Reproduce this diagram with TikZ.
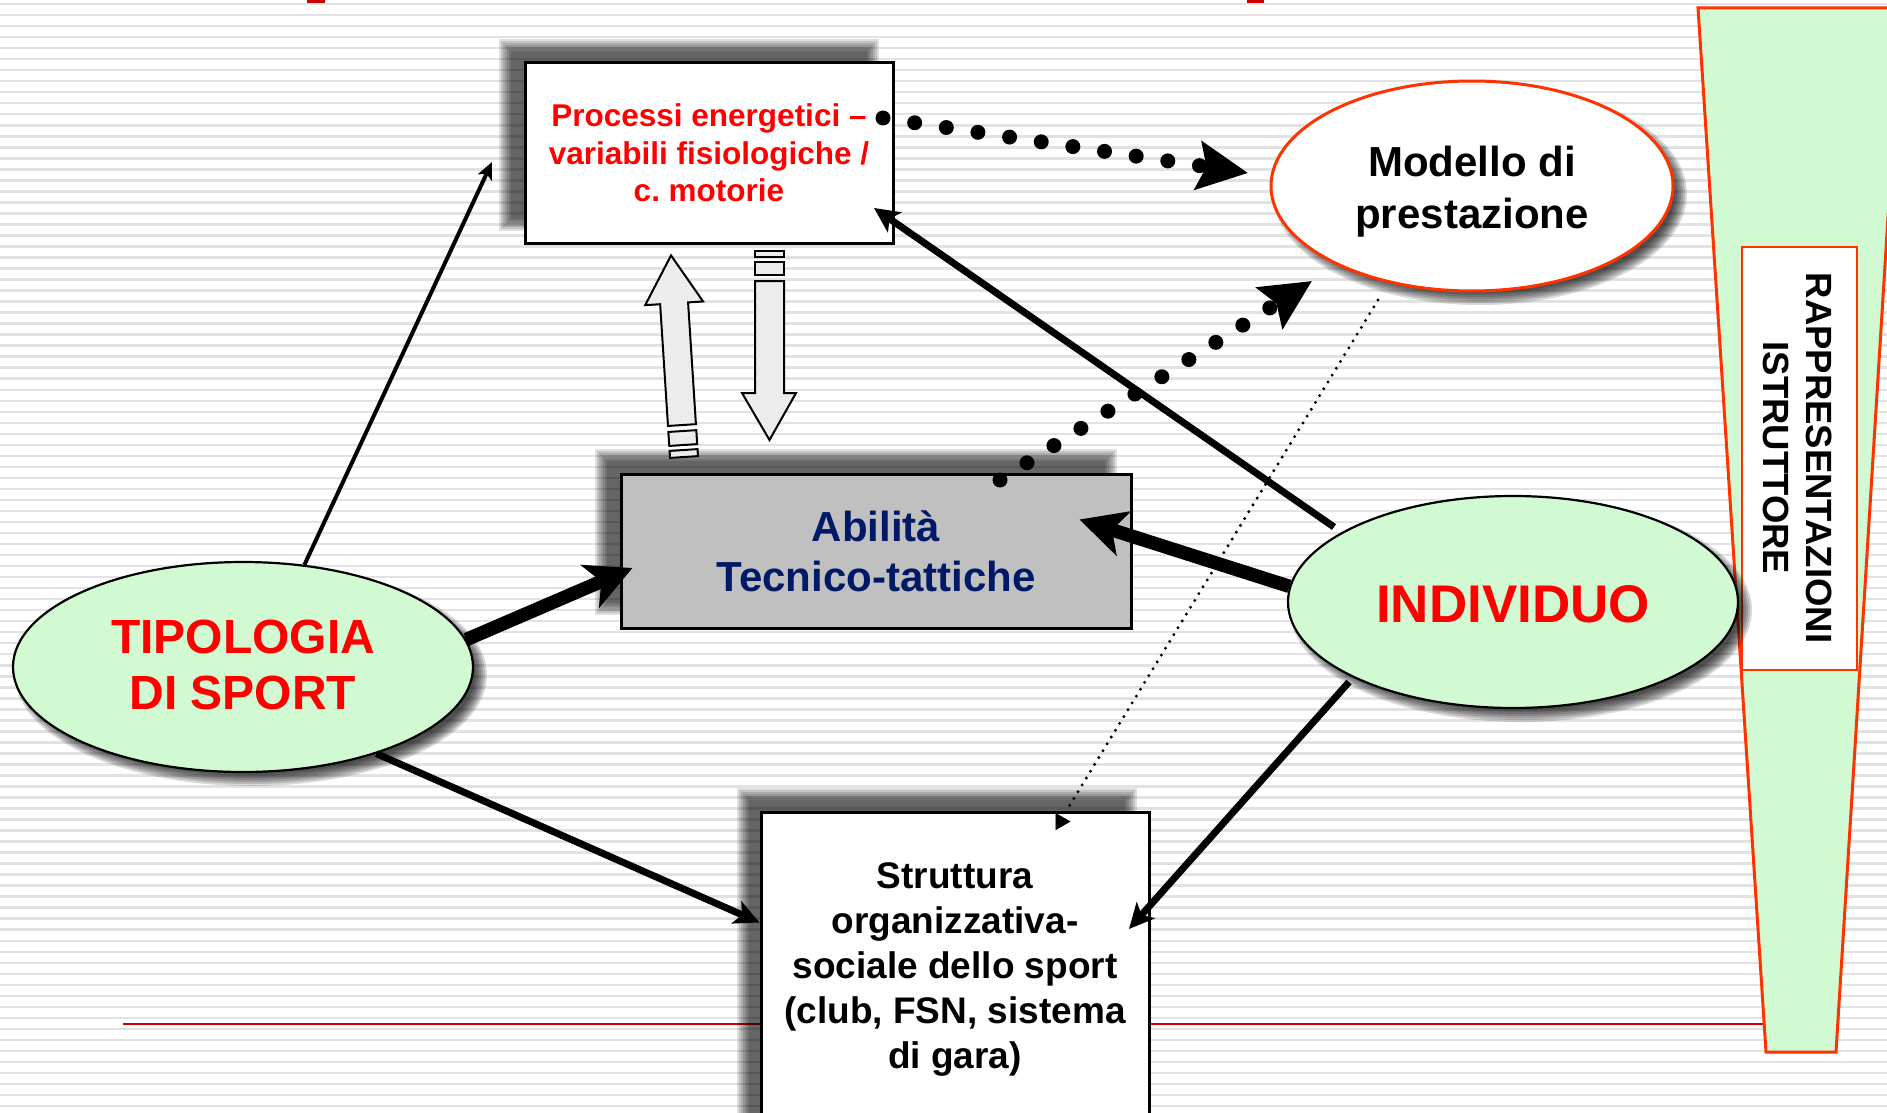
\documentclass[tikz,border=0pt]{standalone}
\usepackage{fontspec}
\setmainfont{Liberation Sans}
\usetikzlibrary{arrows.meta,shapes.geometric,calc}
\definecolor{stripe}{RGB}{226,226,226}
\definecolor{lgreen}{RGB}{210,250,210}
\definecolor{tred}{RGB}{255,0,0}
\definecolor{ored}{RGB}{255,51,0}
\definecolor{navy}{RGB}{0,25,102}
\definecolor{abfill}{RGB}{192,192,192}
\definecolor{lred}{RGB}{204,0,0}
\definecolor{arrfill}{RGB}{236,236,236}
\newcommand{\rectshadow}[4]{\foreach \k in {0,...,6}{\fill[black,opacity=0.12] ({#1-6+2*\k},{#2-6+2*\k}) rectangle ({#3+6-2*\k},{#4+6-2*\k});}}
\newcommand{\ellshadow}[4]{\foreach \k in {0,...,6}{\fill[black,opacity=0.15] (#1,#2) ellipse [x radius={#3+6-2*\k}, y radius={#4+6-2*\k}];}}
\begin{document}
\begin{tikzpicture}[x=1pt,y=-1pt,
  boxnode/.style={draw=black, line width=3pt, rectangle, inner sep=0pt, align=center},
  ellnode/.style={ellipse, line width=2.2pt, inner sep=0pt, align=center},
  bigarrow/.style={line width=13.5pt, -{Stealth[length=46pt,width=46pt,inset=12pt]}},
  midarrow/.style={line width=7pt, -{Stealth[length=25pt,width=24pt,inset=6pt]}},
  thinarrow/.style={line width=4pt, -{Stealth[length=17pt,width=15pt,inset=4pt]}},
  dotarrow/.style={line width=15pt, line cap=round, dash pattern=on 0pt off 32pt, -{Stealth[length=50pt,width=48pt,inset=8pt]}},
  finedots/.style={line width=3.3pt, line cap=round, dash pattern=on 0pt off 8pt},
  smalltip/.style={line width=0.5pt, -{Triangle[length=15pt,width=17pt]}},
  blockarrow/.style={draw=black, line width=2pt, fill=arrfill, line join=miter},
]
\useasboundingbox (0,0) rectangle (1887,1113);
\fill[white] (0,0) rectangle (1887,1113);
\foreach \k in {0,...,100} \fill[stripe] (0,{2.8+11.02*\k}) rectangle (1887,{5.3+11.02*\k});
\fill[lred] (307,0) rectangle (325,3.5);
\fill[lred] (1247,0) rectangle (1264,3.5);
\draw[lred, line width=1.5pt] (123,1024) -- (1766,1024);
\begin{scope}
\clip (0,0) rectangle (1887,1113);
% right funnel
\draw[ored, line width=3pt, fill=lgreen, line join=miter] (1698,8) -- (1901,8) -- (1836,1052) -- (1766,1052) -- cycle;
\node[draw=ored, line width=2pt, fill=white, minimum width=115pt, minimum height=423pt, inner sep=0pt] (rapbox) at (1799.5,458.5) {};
\node[rotate=-90, align=center, inner sep=0pt, font=\bfseries\fontsize{36.5}{43}\selectfont] (raptext) at (1798,458) {RAPPRESENTAZIONI\\ISTRUTTORE};
% shadows
\rectshadow{505}{45}{873}{225}
\rectshadow{601}{455}{1111}{609}
\rectshadow{743}{794}{1131}{1130}
\ellshadow{251}{675}{230}{105}
\ellshadow{1480}{194}{201}{105}
\ellshadow{1521}{610}{225}{106}
% nodes
\node[boxnode, fill=white, minimum width=368pt, minimum height=180pt, text=tred, font=\bfseries\fontsize{31.5}{37.5}\selectfont] (proc) at (709,153) {Processi energetici –\\variabili fisiologiche /\\c.\ motorie};
\node[boxnode, fill=abfill, minimum width=510pt, minimum height=154pt, text=navy, font=\bfseries\fontsize{42}{50}\selectfont] (abil) at (876,551) {Abilità\\Tecnico-tattiche};
\node[boxnode, fill=white, minimum width=388pt, minimum height=314pt, font=\bfseries\fontsize{37}{45}\selectfont] (strut) at (955,969) {Struttura\\organizzativa-\\sociale dello sport\\(club, FSN, sistema\\di gara)};
\node[ellnode, draw=black, fill=lgreen, minimum width=460pt, minimum height=210pt, text=tred, font=\bfseries\fontsize{48}{56}\selectfont] (tipo) at (243,667) {\raisebox{-3pt}[\height][\depth]{\begin{tabular}{@{}c@{}}TIPOLOGIA\\DI SPORT\end{tabular}}};
\node[ellnode, draw=ored, line width=3pt, fill=white, minimum width=402pt, minimum height=210pt, font=\bfseries\fontsize{42}{52}\selectfont] (model) at (1472,186) {\raisebox{-6pt}[\height][\depth]{\begin{tabular}{@{}c@{}}Modello di\\prestazione\end{tabular}}};
\node[ellnode, draw=black, fill=lgreen, minimum width=450pt, minimum height=212pt, text=tred, font=\bfseries\fontsize{53}{60}\selectfont] (indiv) at (1513,602) {\raisebox{-2.5pt}[\height][\depth]{INDIVIDUO}};
% block arrows between proc and abil
\draw[blockarrow] (755,251) rectangle (784,257);
\draw[blockarrow] (755,262) rectangle (784,275);
\draw[blockarrow] (755,281) -- (784,281) -- (784,393) -- (796,393) -- (769.5,440) -- (742,393) -- (755,393) -- cycle;
\draw[blockarrow] (667.98,425.96) -- (660.14,304.21) -- (645.17,305.17) -- (671.03,255.4) -- (703.05,301.45) -- (688.08,302.41) -- (695.92,424.16) -- cycle;
\draw[blockarrow] (669.26,445.92) -- (697.2,444.12) -- (696.3,430.15) -- (668.36,431.95) -- cycle;
\draw[blockarrow] (670.03,457.9) -- (697.97,456.1) -- (697.52,449.11) -- (669.58,450.91) -- cycle;
% connectors
\coordinate (aEnd) at (492,162);
\draw[thinarrow] (tipo.59) -- (aEnd);
\draw[bigarrow] (tipo.7) -- ($(abil.west)+(13,17)$);
\draw[midarrow] (tipo.-33) -- ($(strut.north west)+(0,112)$);
\draw[bigarrow] (indiv.176) -- ($(abil.north east)+(-53,47)$);
\draw[midarrow] ($(indiv)+(-179,-75)$) -- ($(proc)+(165,55)$);
\draw[midarrow] ($(indiv)+(-164,80)$) -- ($(strut)+(174,-40)$);
\coordinate (gEnd) at ($(strut.north west)+(307,0)$);
\draw[finedots] ($(model)+(-94,114)$) -- (gEnd);
\draw[smalltip] ($(strut.north west)+(296,11)$) -- ($(strut.north west)+(311,11)$);
\draw[dotarrow] ($(proc)+(174,-35)$) -- ($(model)+(-224,-13)$);
\draw[dotarrow] ($(abil)+(124,-71)$) -- ($(model)+(-160,95)$);
\end{scope}
\end{tikzpicture}
\end{document}
